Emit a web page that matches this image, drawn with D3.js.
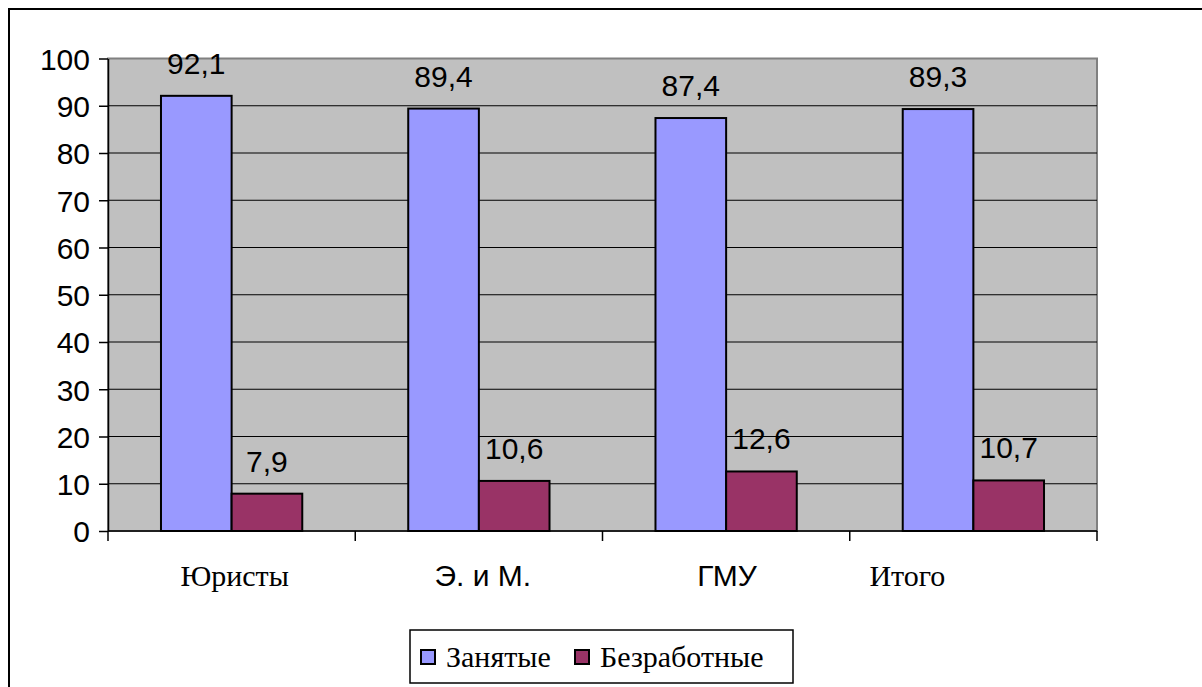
<!DOCTYPE html>
<html>
<head>
<meta charset="utf-8">
<script src="https://cdn.jsdelivr.net/npm/d3@7"></script>
<style>
  html, body { margin: 0; padding: 0; background: #fff; }
  svg { display: block; }
</style>
</head>
<body>
<svg id="chart" width="1202" height="687"></svg>
<script>
const categories = ["Юристы", "Э. и М.", "ГМУ", "Итого"];
const categoryFonts = ["serif", "sans", "sans", "serif"];
const categoryShift = [3, 4, 1, -66];
const seriesNames = ["Занятые", "Безработные"];
const employed = [92.1, 89.4, 87.4, 89.3];
const unemployed = [7.9, 10.6, 12.6, 10.7];
const yTicks = [0, 10, 20, 30, 40, 50, 60, 70, 80, 90, 100];
const colors = ["#9999FF", "#993366"];

const FS = 30;
const SERIF = "'Liberation Serif', Tinos, 'DejaVu Serif', 'Noto Serif', FreeSerif, 'Times New Roman', serif";
const SANS = "'Liberation Sans', Arimo, Arial, sans-serif";

const svg = d3.select("#chart");

// outer border
svg.append("rect").attr("x", 9).attr("y", 9).attr("width", 1200).attr("height", 700)
  .attr("fill", "#fff").attr("stroke", "#000").attr("stroke-width", 2);

const L = 108, R = 1097, T = 58.5, B = 531;

const x = d3.scaleBand().domain(categories).range([L, R]).paddingInner(0).paddingOuter(0);
const y = d3.scaleLinear().domain([0, 100]).range([B, T]);
const groupW = x.bandwidth() * (2 / 3.5);
const xs = d3.scaleBand().domain(seriesNames).range([0, groupW]);

// plot area
svg.append("rect").attr("x", L).attr("y", T).attr("width", R - L).attr("height", B - T)
  .attr("fill", "#C0C0C0").attr("stroke", "#808080").attr("stroke-width", 2);

// gridlines
svg.append("g").selectAll("line").data(yTicks.filter(d => d > 0 && d < 100)).join("line")
  .attr("x1", L).attr("x2", R).attr("y1", d => y(d)).attr("y2", d => y(d))
  .attr("stroke", "#000").attr("stroke-width", 1);

// bars
const data = categories.map((c, i) => ({ c, vals: [employed[i], unemployed[i]] }));
const g = svg.append("g");
data.forEach(d => {
  const x0 = x(d.c) + (x.bandwidth() - groupW) / 2;
  d.vals.forEach((v, j) => {
    const bx = x0 + xs(seriesNames[j]);
    g.append("rect").attr("x", bx).attr("y", y(v)).attr("width", xs.bandwidth())
      .attr("height", y(0) - y(v)).attr("fill", colors[j]).attr("stroke", "#000").attr("stroke-width", 2);
    g.append("text").style("font-family", SANS).attr("x", bx + xs.bandwidth() / 2).attr("y", y(v) - 22)
      .attr("text-anchor", "middle").style("font-size", FS + "px")
      .attr("fill", "#000").text(String(v).replace(".", ","));
  });
});

// y axis
const yAxis = d3.axisLeft(y).tickValues(yTicks).tickSize(9).tickPadding(9).tickSizeOuter(0);
const ya = svg.append("g").attr("transform", `translate(${L},0)`).call(yAxis);
ya.select(".domain").attr("stroke", "#000").attr("stroke-width", 1.5);
ya.selectAll(".tick line").attr("stroke", "#000").attr("stroke-width", 1.5);
ya.selectAll(".tick text").style("font-family", SANS).style("font-size", FS + "px").attr("fill", "#000")
  .attr("dy", "0.36em");

// x axis
svg.append("line").attr("x1", L).attr("x2", R).attr("y1", B).attr("y2", B)
  .attr("stroke", "#000").attr("stroke-width", 1.5);
const bounds = categories.map(c => x(c)).concat([R]);
svg.append("g").selectAll("line").data(bounds).join("line")
  .attr("x1", d => d).attr("x2", d => d).attr("y1", B).attr("y2", B + 10)
  .attr("stroke", "#000").attr("stroke-width", 1.5);
svg.append("g").selectAll("text").data(categories).join("text")
  .style("font-family", (d, i) => categoryFonts[i] === "serif" ? SERIF : SANS)
  .attr("x", (d, i) => x(d) + x.bandwidth() / 2 + categoryShift[i])
  .attr("y", 586)
  .attr("text-anchor", "middle")
  .style("font-size", FS + "px").attr("fill", "#000").text(d => d);

// legend
const lg = svg.append("g");
lg.append("rect").attr("x", 410).attr("y", 630).attr("width", 383).attr("height", 53)
  .attr("fill", "#fff").attr("stroke", "#000").attr("stroke-width", 1.5);
const legX = [421, 575];
seriesNames.forEach((s, j) => {
  lg.append("rect").attr("x", legX[j]).attr("y", 650).attr("width", 14).attr("height", 14)
    .attr("fill", colors[j]).attr("stroke", "#000").attr("stroke-width", 2);
  lg.append("text").style("font-family", SERIF).attr("x", legX[j] + 25).attr("y", 667)
    .style("font-size", FS + "px").attr("fill", "#000").text(s);
});
</script>
</body>
</html>
